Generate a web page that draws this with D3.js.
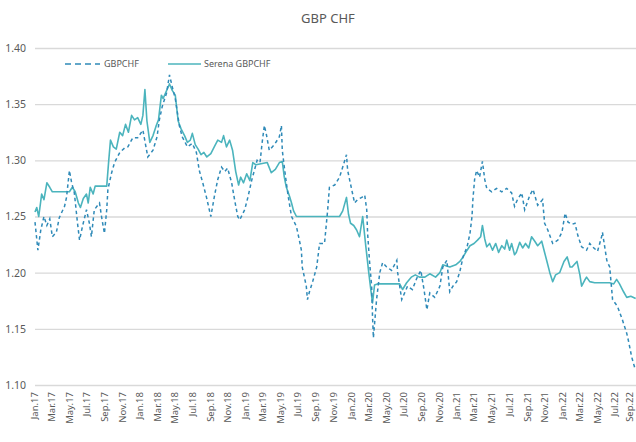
<!DOCTYPE html>
<html>
<head>
<meta charset="utf-8">
<script src="https://cdn.jsdelivr.net/npm/d3@7.9.0/dist/d3.min.js"></script>
<style>
  body { margin: 0; background: #fff; }
  svg text { font-family: 'Noto Sans', sans-serif; fill: #595959; }
</style>
</head>
<body>
<svg id="chart" width="636" height="442"></svg>
<script>
// GBPCHF spot (dashed line)
const gbpDates = [
  '2017-01-01','2017-01-11','2017-01-21','2017-02-01','2017-02-11','2017-02-21','2017-03-02','2017-03-16','2017-03-26','2017-04-13',
  '2017-04-20','2017-04-30','2017-05-07','2017-05-17','2017-05-28','2017-06-04','2017-06-14','2017-06-28','2017-07-08','2017-07-15',
  '2017-07-25','2017-08-12','2017-08-19','2017-08-29','2017-09-06','2017-09-10','2017-09-23','2017-10-03','2017-10-21','2017-11-07',
  '2017-11-18','2017-12-05','2017-12-22','2018-01-09','2018-01-26','2018-02-13','2018-02-27','2018-03-07','2018-03-17','2018-04-01',
  '2018-04-11','2018-04-21','2018-05-01','2018-05-15','2018-05-25','2018-06-12','2018-06-29','2018-07-13','2018-07-23','2018-08-04',
  '2018-08-17','2018-09-01','2018-09-14','2018-09-25','2018-10-08','2018-10-19','2018-10-29','2018-11-12','2018-11-22','2018-12-03',
  '2018-12-10','2018-12-27','2019-01-07','2019-01-21','2019-02-08','2019-02-18','2019-02-25','2019-03-05','2019-03-12','2019-03-22',
  '2019-04-09','2019-04-26','2019-05-03','2019-05-06','2019-05-13','2019-05-20','2019-05-27','2019-06-07','2019-06-24','2019-07-04',
  '2019-07-11','2019-07-14','2019-07-28','2019-08-01','2019-08-08','2019-08-19','2019-09-02','2019-09-12','2019-09-29','2019-10-10',
  '2019-10-16','2019-11-03','2019-11-20','2019-12-01','2019-12-14','2019-12-18','2020-01-01','2020-01-11','2020-01-21','2020-02-05',
  '2020-02-15','2020-02-22','2020-02-25','2020-03-03','2020-03-10','2020-03-13','2020-03-16','2020-03-27','2020-04-07','2020-04-17',
  '2020-05-01','2020-05-18','2020-06-05','2020-06-08','2020-06-22','2020-07-02','2020-07-12','2020-07-29','2020-08-13','2020-08-27',
  '2020-09-07','2020-09-17','2020-09-27','2020-10-14','2020-11-01','2020-11-11','2020-11-25','2020-12-05','2020-12-16','2020-12-29',
  '2021-01-09','2021-01-20','2021-02-03','2021-02-13','2021-02-20','2021-02-23','2021-03-01','2021-03-08','2021-03-18','2021-03-28',
  '2021-04-05','2021-04-12','2021-04-29','2021-05-16','2021-06-03','2021-06-20','2021-07-07','2021-07-17','2021-07-27','2021-08-11',
  '2021-08-21','2021-09-08','2021-09-19','2021-10-05','2021-10-22','2021-10-29','2021-11-09','2021-11-26','2021-12-14','2021-12-28',
  '2022-01-08','2022-01-18','2022-02-01','2022-02-11','2022-02-21','2022-03-06','2022-03-23','2022-04-03','2022-04-13','2022-04-30',
  '2022-05-14','2022-05-17','2022-06-01','2022-06-11','2022-06-18','2022-06-21','2022-07-08','2022-07-25','2022-08-09','2022-08-16',
  '2022-08-26','2022-09-06'
];
const gbpValues = [
  1.245,1.220,1.238,1.250,1.242,1.248,1.232,1.236,1.249,1.259,
  1.267,1.291,1.281,1.271,1.244,1.229,1.241,1.256,1.244,1.232,
  1.256,1.262,1.250,1.235,1.256,1.274,1.289,1.298,1.307,1.311,
  1.312,1.320,1.320,1.327,1.303,1.309,1.321,1.336,1.348,1.360,
  1.376,1.365,1.355,1.331,1.321,1.312,1.315,1.307,1.291,1.280,
  1.267,1.250,1.269,1.283,1.294,1.290,1.293,1.280,1.265,1.250,
  1.247,1.256,1.267,1.283,1.300,1.298,1.315,1.331,1.323,1.309,
  1.314,1.321,1.331,1.309,1.294,1.280,1.267,1.250,1.241,1.229,
  1.220,1.205,1.188,1.176,1.183,1.192,1.205,1.226,1.226,1.256,
  1.276,1.278,1.285,1.294,1.305,1.291,1.274,1.262,1.265,1.267,
  1.269,1.256,1.235,1.209,1.188,1.161,1.142,1.176,1.200,1.209,
  1.205,1.202,1.211,1.200,1.176,1.182,1.188,1.185,1.195,1.202,
  1.185,1.167,1.182,1.178,1.188,1.205,1.211,1.183,1.188,1.192,
  1.201,1.214,1.223,1.235,1.250,1.265,1.283,1.291,1.285,1.299,
  1.283,1.275,1.272,1.275,1.272,1.275,1.271,1.259,1.265,1.271,
  1.256,1.269,1.274,1.260,1.265,1.244,1.238,1.226,1.229,1.236,
  1.253,1.245,1.243,1.244,1.233,1.223,1.220,1.226,1.223,1.219,
  1.232,1.236,1.211,1.205,1.185,1.176,1.170,1.158,1.146,1.138,
  1.125,1.115
];

// Serena GBPCHF (solid line)
const serenaDates = [
  '2017-01-01','2017-01-07','2017-01-14','2017-01-24','2017-02-01','2017-02-11','2017-02-21','2017-03-02','2017-04-30','2017-05-10',
  '2017-05-20','2017-05-31','2017-06-07','2017-06-17','2017-06-28','2017-07-04','2017-07-11','2017-07-21','2017-07-28','2017-09-06',
  '2017-09-13','2017-09-19','2017-09-29','2017-10-09','2017-10-21','2017-10-31','2017-11-10','2017-11-20','2017-12-01','2017-12-11',
  '2017-12-22','2018-01-02','2018-01-09','2018-01-16','2018-01-23','2018-02-02','2018-02-13','2018-02-23','2018-03-04','2018-03-14',
  '2018-03-20','2018-04-01','2018-04-11','2018-04-21','2018-05-01','2018-05-11','2018-05-21','2018-06-02','2018-06-12','2018-06-22',
  '2018-06-29','2018-07-09','2018-07-19','2018-07-29','2018-08-08','2018-08-18','2018-09-01','2018-09-15','2018-09-25','2018-10-08',
  '2018-10-15','2018-10-25','2018-11-05','2018-11-15','2018-11-26','2018-12-06','2018-12-13','2018-12-23','2019-01-03','2019-01-14',
  '2019-01-24','2019-02-04','2019-03-15','2019-03-29','2019-04-12','2019-04-26','2019-05-06','2019-05-13','2019-05-20','2019-05-31',
  '2019-06-07','2019-06-14','2019-06-24','2019-11-20','2019-12-01','2019-12-14','2019-12-21','2019-12-28','2020-01-08','2020-01-18',
  '2020-01-28','2020-02-08','2020-02-19','2020-02-29','2020-03-07','2020-03-13','2020-03-20','2020-03-30','2020-06-15','2020-06-25',
  '2020-07-09','2020-07-25','2020-08-08','2020-08-22','2020-09-10','2020-09-27','2020-10-17','2020-11-01','2020-11-11','2020-12-05',
  '2020-12-26','2021-01-09','2021-01-20','2021-02-03','2021-02-13','2021-02-27','2021-03-11','2021-03-22','2021-03-28','2021-04-05',
  '2021-04-12','2021-04-22','2021-05-02','2021-05-13','2021-05-23','2021-06-03','2021-06-13','2021-06-20','2021-06-30','2021-07-07',
  '2021-07-17','2021-07-23','2021-08-04','2021-08-14','2021-08-24','2021-09-04','2021-09-14','2021-09-25','2021-10-05','2021-10-19',
  '2021-10-29','2021-11-05','2021-11-16','2021-11-26','2021-12-06','2021-12-20','2022-01-04','2022-01-15','2022-01-25','2022-02-01',
  '2022-02-11','2022-02-18','2022-02-28','2022-03-06','2022-03-16','2022-03-23','2022-04-03','2022-04-20','2022-06-11','2022-06-25',
  '2022-07-05','2022-07-15','2022-07-29','2022-08-09','2022-08-23','2022-09-09'
];
const serenaValues = [
  1.254,1.258,1.250,1.270,1.265,1.280,1.276,1.272,1.272,1.276,
  1.272,1.262,1.258,1.266,1.270,1.262,1.276,1.270,1.277,1.277,
  1.300,1.318,1.312,1.310,1.325,1.322,1.332,1.325,1.340,1.336,
  1.338,1.332,1.340,1.363,1.335,1.316,1.322,1.330,1.336,1.358,
  1.355,1.362,1.368,1.362,1.358,1.335,1.328,1.322,1.316,1.318,
  1.324,1.314,1.310,1.305,1.307,1.303,1.306,1.313,1.318,1.316,
  1.322,1.312,1.318,1.309,1.290,1.278,1.285,1.280,1.288,1.282,
  1.298,1.296,1.298,1.289,1.292,1.298,1.299,1.285,1.276,1.268,
  1.262,1.255,1.250,1.250,1.255,1.267,1.252,1.244,1.242,1.238,
  1.232,1.250,1.223,1.200,1.185,1.173,1.189,1.190,1.190,1.185,
  1.191,1.196,1.198,1.196,1.196,1.199,1.196,1.200,1.207,1.205,
  1.207,1.210,1.214,1.220,1.224,1.226,1.229,1.232,1.242,1.230,
  1.223,1.226,1.220,1.226,1.218,1.224,1.221,1.229,1.220,1.226,
  1.216,1.218,1.227,1.222,1.226,1.222,1.232,1.228,1.224,1.228,
  1.218,1.211,1.200,1.192,1.198,1.200,1.210,1.214,1.205,1.205,
  1.208,1.210,1.198,1.188,1.193,1.196,1.192,1.191,1.191,1.190,
  1.194,1.190,1.183,1.178,1.179,1.177
];

const yTicks = [1.10, 1.15, 1.20, 1.25, 1.30, 1.35, 1.40];
const monthNames = ['Jan', 'Feb', 'Mar', 'Apr', 'May', 'Jun', 'Jul', 'Aug', 'Sep', 'Oct', 'Nov', 'Dec'];

const parse = d3.timeParse('%Y-%m-%d');
const gbp = gbpDates.map((d, i) => ({ date: parse(d), value: gbpValues[i] }));
const serena = serenaDates.map((d, i) => ({ date: parse(d), value: serenaValues[i] }));

const svg = d3.select('#chart');

const x = d3.scaleTime()
  .domain([parse('2017-01-01'), parse('2022-09-10')])
  .range([35, 636]);

const y = d3.scaleLinear()
  .domain([1.10, 1.40])
  .range([385, 48]);

// title
svg.append('text')
  .attr('x', 328)
  .attr('y', 23)
  .attr('text-anchor', 'middle')
  .style('font-size', '13px')
  .text('GBP CHF');

// horizontal gridlines + y labels
const yAxis = svg.append('g')
  .attr('transform', 'translate(35,0)')
  .call(d3.axisLeft(y).tickValues(yTicks).tickSize(-601).tickPadding(9).tickFormat(d3.format('.2f')));
yAxis.select('.domain').remove();
yAxis.selectAll('line').attr('stroke', '#d9d9d9').attr('stroke-width', 1.3);
yAxis.selectAll('text').style('font-size', '10.5px').style('fill', '#595959');

// x labels every two months, rotated
const xTicks = d3.timeMonth.range(parse('2017-01-01'), parse('2022-09-02'), 2);
const xAxis = svg.append('g')
  .attr('transform', 'translate(0,385)')
  .call(d3.axisBottom(x).tickValues(xTicks).tickSize(0).tickPadding(0)
    .tickFormat(d => monthNames[d.getMonth()] + '.' + String(d.getFullYear()).slice(2)));
xAxis.select('.domain').remove();
xAxis.selectAll('text')
  .attr('transform', 'rotate(-90)')
  .attr('text-anchor', 'end')
  .attr('x', -7)
  .attr('y', 0)
  .attr('dy', '0.25em')
  .style('font-size', '9.5px')
  .style('fill', '#595959');
// last label sits right at the edge, pull it in a little
xAxis.selectAll('text').filter((d, i, n) => i === n.length - 1).attr('y', -3);

const line = d3.line()
  .x(d => x(d.date))
  .y(d => y(d.value));

svg.append('path')
  .datum(serena)
  .attr('fill', 'none')
  .attr('stroke', '#4bb4bd')
  .attr('stroke-width', 1.6)
  .attr('stroke-linejoin', 'round')
  .attr('d', line);

svg.append('path')
  .datum(gbp)
  .attr('fill', 'none')
  .attr('stroke', '#2f8ab8')
  .attr('stroke-width', 1.5)
  .attr('stroke-dasharray', '3.5,3')
  .attr('d', line);

// legend
const legend = svg.append('g');
legend.append('line')
  .attr('x1', 65).attr('x2', 100).attr('y1', 64).attr('y2', 64)
  .attr('stroke', '#2f8ab8').attr('stroke-width', 1.6).attr('stroke-dasharray', '6,4');
legend.append('text')
  .attr('x', 104).attr('y', 67)
  .style('font-size', '9px')
  .text('GBPCHF');
legend.append('line')
  .attr('x1', 168).attr('x2', 201).attr('y1', 64).attr('y2', 64)
  .attr('stroke', '#4bb4bd').attr('stroke-width', 1.6);
legend.append('text')
  .attr('x', 204).attr('y', 67)
  .style('font-size', '9px')
  .text('Serena GBPCHF');
</script>
</body>
</html>
